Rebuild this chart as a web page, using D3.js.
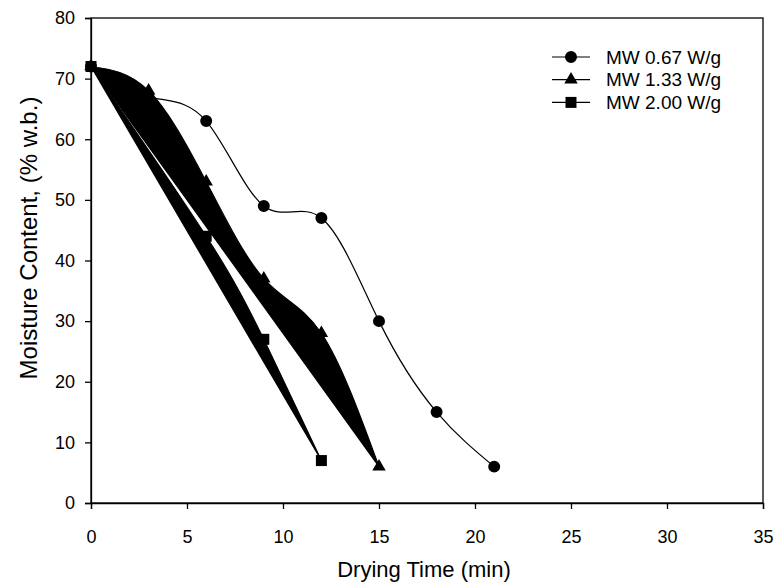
<!DOCTYPE html>
<html lang="en">
  <head>
    <meta charset="UTF-8" />
    <title>Moisture Content vs Drying Time</title>
    <script src="https://cdn.jsdelivr.net/npm/d3@7"></script>
    <style>
      body { margin: 0; background: #fff; }
      svg text { font-family: Arial, 'Liberation Sans', sans-serif; fill: #000; }
    </style>
  </head>
  <body>
    <div id="chart"></div>
    <script>
      // data
      const seriesNames = ['MW 0.67 W/g', 'MW 1.33 W/g', 'MW 2.00 W/g']
      const time067 = [0, 3, 6, 9, 12, 15, 18, 21]
      const mc067 = [72, 67, 63, 49, 47, 30, 15, 6]
      const time133 = [0, 3, 6, 9, 12, 15]
      const mc133 = [72, 68, 53, 37, 28, 6]
      const time200 = [0, 6, 9, 12]
      const mc200 = [72, 44, 27, 7]
      const xTicks = [0, 5, 10, 15, 20, 25, 30, 35]
      const yTicks = [0, 10, 20, 30, 40, 50, 60, 70, 80]

      const width = 778
      const height = 588
      const margin = { top: 18, right: 15, bottom: 85, left: 91 }
      const innerW = width - margin.left - margin.right
      const innerH = height - margin.top - margin.bottom

      const svg = d3.select('#chart')
        .append('svg')
        .attr('width', width)
        .attr('height', height)

      const g = svg.append('g')
        .attr('transform', `translate(${margin.left},${margin.top})`)

      const x = d3.scaleLinear().domain([0, 35]).range([0, innerW])
      const y = d3.scaleLinear().domain([0, 80]).range([innerH, 0])

      // frame
      g.append('rect')
        .attr('width', innerW)
        .attr('height', innerH)
        .attr('fill', 'none')
        .attr('stroke', '#000')
        .attr('stroke-width', 1.3)

      const xAxis = g.append('g')
        .attr('transform', `translate(0,${innerH})`)
        .call(d3.axisBottom(x).tickValues(xTicks).tickSize(6).tickPadding(21))
      const yAxis = g.append('g')
        .call(d3.axisLeft(y).tickValues(yTicks).tickSize(6).tickPadding(10))

      for (const ax of [xAxis, yAxis]) {
        ax.select('.domain').attr('stroke-width', 1.3)
        ax.selectAll('.tick line').attr('stroke-width', 1.3)
        ax.selectAll('.tick text')
          .attr('font-size', 18)
          .attr('font-family', 'Arial, Liberation Sans, sans-serif')
      }

      svg.append('text')
        .attr('x', margin.left + innerW / 2 - 3)
        .attr('y', 577)
        .attr('text-anchor', 'middle')
        .attr('font-size', 22)
        .text('Drying Time (min)')

      svg.append('text')
        .attr('transform', `translate(37,${238}) rotate(-90)`)
        .attr('text-anchor', 'middle')
        .attr('font-size', 24)
        .text('Moisture Content, (% w.b.)')

      const series = [
        { name: seriesNames[0], xs: time067, ys: mc067, symbol: d3.symbolCircle, size: 113, fill: 'none' },
        { name: seriesNames[1], xs: time133, ys: mc133, symbol: d3.symbolTriangle, size: 78, fill: '#000' },
        { name: seriesNames[2], xs: time200, ys: mc200, symbol: d3.symbolSquare, size: 121, fill: '#000' }
      ]

      const line = d3.line()
        .x(d => x(d[0]))
        .y(d => y(d[1]))
        .curve(d3.curveNatural)

      series.forEach(s => {
        const pts = s.xs.map((t, i) => [t, s.ys[i]])
        let d = line(pts)
        if (s.fill !== 'none') d += 'Z'
        g.append('path')
          .attr('d', d)
          .attr('fill', s.fill)
          .attr('stroke', '#000')
          .attr('stroke-width', 1.2)
      })

      series.forEach(s => {
        g.selectAll(null)
          .data(s.xs.map((t, i) => [t, s.ys[i]]))
          .join('path')
          .attr('transform', d => `translate(${x(d[0])},${y(d[1])})`)
          .attr('d', d3.symbol(s.symbol, s.size))
          .attr('fill', '#000')
      })

      // legend
      const legend = svg.append('g').attr('transform', 'translate(552,57)')
      series.forEach((s, i) => {
        const row = legend.append('g').attr('transform', `translate(0,${i * 22.7})`)
        row.append('line')
          .attr('x1', 0).attr('x2', 38)
          .attr('stroke', '#000')
          .attr('stroke-width', 1.2)
        row.append('path')
          .attr('transform', 'translate(19,0)')
          .attr('d', d3.symbol(s.symbol, s.size))
          .attr('fill', '#000')
        row.append('text')
          .attr('x', 54)
          .attr('dy', '0.35em')
          .attr('font-size', 19)
          .text(s.name)
      })
    </script>
  </body>
</html>
